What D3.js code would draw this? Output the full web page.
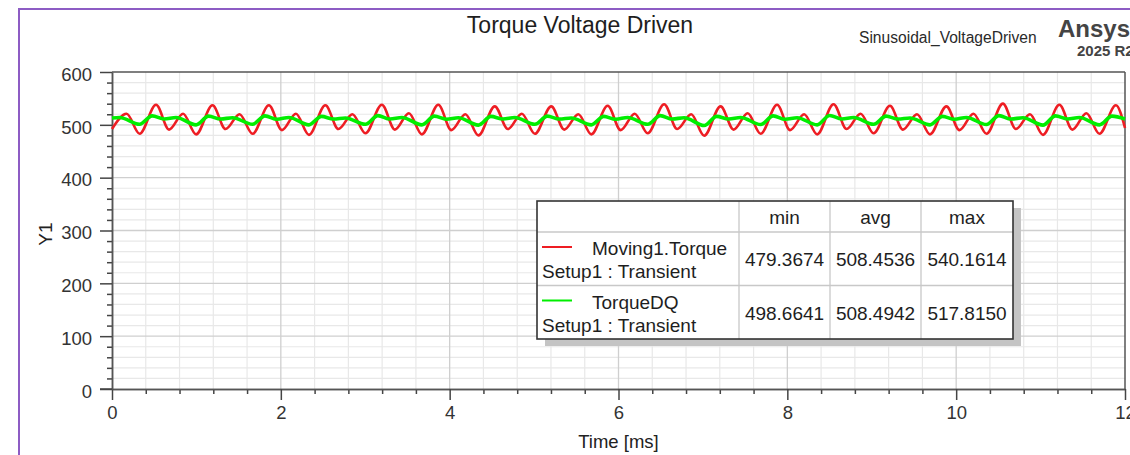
<!DOCTYPE html>
<html>
<head>
<meta charset="utf-8">
<script src="https://cdn.jsdelivr.net/npm/d3@7"></script>
<style>
  html, body { margin: 0; padding: 0; background: #fff; }
  svg { display: block; font-family: "Liberation Sans", Arial, sans-serif; }
</style>
</head>
<body>
<div id="viz"></div>
<script>
// Moving1.Torque, read at its peaks and troughs (time in ms, torque)
const torqueTime = [
  0, 0.173, 0.327,
  0.522, 0.676, 0.842, 0.996,
  1.191, 1.345, 1.511, 1.665,
  1.859, 2.013, 2.179, 2.333,
  2.528, 2.682, 2.848, 3.002,
  3.197, 3.351, 3.517, 3.671,
  3.866, 4.020, 4.186, 4.340,
  4.535, 4.689, 4.855, 5.009,
  5.204, 5.358, 5.524, 5.678,
  5.872, 6.026, 6.192, 6.346,
  6.541, 6.695, 6.861, 7.015,
  7.210, 7.364, 7.530, 7.684,
  7.879, 8.033, 8.199, 8.353,
  8.548, 8.702, 8.868, 9.022,
  9.216, 9.370, 9.536, 9.690,
  9.885, 10.039, 10.205, 10.359,
  10.554, 10.708, 10.874, 11.028,
  11.223, 11.377, 11.543, 11.697,
  11.892, 12.0
];
const torqueValues = [
  492, 521, 483,
  538, 491, 521, 482,
  537, 492, 520, 483,
  537, 490, 521, 481,
  537, 492, 520, 484,
  538, 491, 522, 482,
  538, 490, 520, 480,
  535, 492, 521, 483,
  535, 491, 520, 482,
  536, 490, 521, 484,
  539, 492, 520, 479.4,
  535, 491, 522, 483,
  538, 490, 520, 482,
  539, 492, 521, 484,
  536, 491, 520, 482,
  535, 490, 521, 483,
  540.2, 492, 520, 481,
  538, 491, 522, 483,
  537, 494
];

// TorqueDQ
const dqTime = [
  0, 0.090, 0.327,
  0.475, 0.617, 0.759, 0.996,
  1.144, 1.286, 1.428, 1.665,
  1.812, 1.954, 2.096, 2.333,
  2.481, 2.623, 2.765, 3.002,
  3.150, 3.292, 3.434, 3.671,
  3.819, 3.961, 4.103, 4.340,
  4.488, 4.630, 4.772, 5.009,
  5.157, 5.299, 5.441, 5.678,
  5.825, 5.967, 6.109, 6.346,
  6.494, 6.636, 6.778, 7.015,
  7.163, 7.305, 7.447, 7.684,
  7.832, 7.974, 8.116, 8.353,
  8.501, 8.643, 8.785, 9.022,
  9.169, 9.311, 9.453, 9.690,
  9.838, 9.980, 10.122, 10.359,
  10.507, 10.649, 10.791, 11.028,
  11.176, 11.318, 11.460, 11.697,
  11.845, 12.0
];
const dqValues = [
  513, 514, 501,
  517, 511, 514, 500,
  516.5, 511, 513.5, 501,
  517, 510.5, 514, 500,
  516, 511, 513, 501,
  517.5, 511, 514, 500,
  516.5, 510.5, 513.5, 499.5,
  516, 511, 514, 501,
  516.5, 511, 513, 500,
  516, 510.5, 514, 501,
  517.5, 511, 513.5, 498.7,
  516, 511, 514, 500.5,
  517, 510.5, 513.5, 500,
  517.8, 511, 514, 501,
  516.5, 511, 513, 500,
  516, 510.5, 514, 500.5,
  517.5, 511, 513.5, 499.5,
  517, 511, 514, 500,
  516.5, 511
];

const xMajorTicks = [0, 2, 4, 6, 8, 10, 12];
const yMajorTicks = [0, 100, 200, 300, 400, 500, 600];

const legendNames = ['Moving1.Torque', 'TorqueDQ'];
const legendSetup = ['Setup1 : Transient', 'Setup1 : Transient'];
const legendColors = ['#ee1d23', '#00ee00'];
const statHeaders = ['min', 'avg', 'max'];
const statMin = ['479.3674', '498.6641'];
const statAvg = ['508.4536', '508.4942'];
const statMax = ['540.1614', '517.8150'];

const width = 1130;
const height = 455;

const svg = d3.select('#viz')
  .append('svg')
  .attr('width', width)
  .attr('height', height);

svg.append('rect').attr('width', width).attr('height', height).attr('fill', '#fff');

// purple outer frame (runs off the right and bottom edges)
svg.append('rect')
  .attr('x', 19).attr('y', 9)
  .attr('width', 1140).attr('height', 470)
  .attr('fill', 'none')
  .attr('stroke', '#8d5cc4')
  .attr('stroke-width', 2);

const x = d3.scaleLinear().domain([0, 12]).range([112, 1125]);
const y = d3.scaleLinear().domain([0, 600]).range([389, 72]);

const xMinor = d3.range(0, 31).map(i => i * 0.4).filter(v => Math.abs(v / 2 - Math.round(v / 2)) > 1e-6);
const yMinor = d3.range(0, 31).map(i => i * 20).filter(v => v % 100 !== 0);

// grid
const grid = svg.append('g');
grid.selectAll('.vminor').data(xMinor).enter().append('line')
  .attr('x1', d => x(d)).attr('x2', d => x(d))
  .attr('y1', y(600)).attr('y2', y(0))
  .attr('stroke', '#e8e8e8').attr('stroke-width', 1.2);
grid.selectAll('.hminor').data(yMinor).enter().append('line')
  .attr('x1', x(0)).attr('x2', x(12))
  .attr('y1', d => y(d)).attr('y2', d => y(d))
  .attr('stroke', '#e8e8e8').attr('stroke-width', 1.2);
grid.selectAll('.vmajor').data(xMajorTicks.slice(1, -1)).enter().append('line')
  .attr('x1', d => x(d)).attr('x2', d => x(d))
  .attr('y1', y(600)).attr('y2', y(0))
  .attr('stroke', '#cfcfcf').attr('stroke-width', 1.3);
grid.selectAll('.hmajor').data(yMajorTicks.slice(1, -1)).enter().append('line')
  .attr('x1', x(0)).attr('x2', x(12))
  .attr('y1', d => y(d)).attr('y2', d => y(d))
  .attr('stroke', '#cfcfcf').attr('stroke-width', 1.3);

// frame top / right
svg.append('line')
  .attr('x1', x(0)).attr('x2', x(12)).attr('y1', y(600)).attr('y2', y(600))
  .attr('stroke', '#555').attr('stroke-width', 1.5);
svg.append('line')
  .attr('x1', x(12)).attr('x2', x(12)).attr('y1', y(600)).attr('y2', y(0))
  .attr('stroke', '#555').attr('stroke-width', 1.5);

// axes
const styleAxis = g => {
  g.select('.domain').attr('stroke', '#555').attr('stroke-width', 1.5);
  g.selectAll('.tick line').attr('stroke', '#444').attr('stroke-width', 1.5);
  g.selectAll('.tick text')
    .attr('fill', '#333')
    .style('font-size', '18.5px')
    .style('font-family', '"Liberation Sans", Arial, sans-serif');
};

svg.append('g')
  .attr('transform', `translate(0,${y(0)})`)
  .call(d3.axisBottom(x).tickValues(xMinor).tickSize(5).tickFormat('').tickSizeOuter(0))
  .call(styleAxis);
svg.append('g')
  .attr('transform', `translate(0,${y(0)})`)
  .call(d3.axisBottom(x).tickValues(xMajorTicks).tickSize(11).tickPadding(6).tickSizeOuter(0).tickFormat(d3.format('d')))
  .call(styleAxis);

svg.append('g')
  .attr('transform', `translate(${x(0)},0)`)
  .call(d3.axisLeft(y).tickValues(yMinor).tickSize(5).tickFormat('').tickSizeOuter(0))
  .call(styleAxis);
svg.append('g')
  .attr('transform', `translate(${x(0)},0)`)
  .call(d3.axisLeft(y).tickValues(yMajorTicks).tickSize(12).tickPadding(8).tickSizeOuter(0).tickFormat(d3.format('d')))
  .call(styleAxis)
  .call(g => g.selectAll('.tick text').attr('dy', '0.45em'));

// x-axis extends left to the major tick like the reference
svg.append('line')
  .attr('x1', 100).attr('x2', x(0)).attr('y1', y(0)).attr('y2', y(0))
  .attr('stroke', '#444').attr('stroke-width', 1.5);

// series
const line = d3.line()
  .x(d => x(d[0]))
  .y(d => y(d[1]))
  .curve(d3.curveMonotoneX);

svg.append('path')
  .datum(torqueTime.map((t, i) => [t, torqueValues[i]]))
  .attr('d', line)
  .attr('fill', 'none')
  .attr('stroke', legendColors[0])
  .attr('stroke-width', 2.6)
  .attr('stroke-linejoin', 'round');

svg.append('path')
  .datum(dqTime.map((t, i) => [t, dqValues[i]]))
  .attr('d', line)
  .attr('fill', 'none')
  .attr('stroke', legendColors[1])
  .attr('stroke-width', 3.6)
  .attr('stroke-linejoin', 'round');

// titles
svg.append('text')
  .attr('x', 580).attr('y', 33)
  .attr('text-anchor', 'middle')
  .attr('fill', '#1e1e1e')
  .style('font-size', '23px')
  .text('Torque Voltage Driven');

svg.append('text')
  .attr('x', 859).attr('y', 43)
  .attr('fill', '#2a2a2a')
  .style('font-size', '15.6px')
  .text('Sinusoidal_VoltageDriven');

svg.append('text')
  .attr('x', 1058).attr('y', 37)
  .attr('fill', '#444')
  .style('font-size', '24px')
  .style('font-weight', 'bold')
  .text('Ansys');

svg.append('text')
  .attr('x', 1077).attr('y', 56)
  .attr('fill', '#444')
  .style('font-size', '15px')
  .style('font-weight', 'bold')
  .text('2025 R2');

svg.append('text')
  .attr('transform', 'translate(52,234) rotate(-90)')
  .attr('text-anchor', 'middle')
  .attr('fill', '#222')
  .style('font-size', '19px')
  .text('Y1');

svg.append('text')
  .attr('x', (x(0) + x(12)) / 2).attr('y', 448)
  .attr('text-anchor', 'middle')
  .attr('fill', '#222')
  .style('font-size', '18.5px')
  .text('Time [ms]');

// legend table
const lg = { x: 537, y: 201, cols: [202, 91, 91, 92], header: 31, row: 53.5 };
const lgW = d3.sum(lg.cols);
const lgH = lg.header + 2 * lg.row;
const colX = [lg.x];
lg.cols.forEach((w, i) => colX.push(colX[i] + w));

const legend = svg.append('g');
legend.append('rect')
  .attr('x', lg.x + 8).attr('y', lg.y + 7)
  .attr('width', lgW).attr('height', lgH)
  .attr('fill', '#c4c4c4');
legend.append('rect')
  .attr('x', lg.x).attr('y', lg.y)
  .attr('width', lgW).attr('height', lgH)
  .attr('fill', '#fff');

// inner lines
colX.slice(1, -1).forEach(cx => {
  legend.append('line')
    .attr('x1', cx).attr('x2', cx).attr('y1', lg.y).attr('y2', lg.y + lgH)
    .attr('stroke', '#c8c8c8').attr('stroke-width', 1.3);
});
[lg.y + lg.header, lg.y + lg.header + lg.row].forEach(ry => {
  legend.append('line')
    .attr('x1', lg.x).attr('x2', lg.x + lgW).attr('y1', ry).attr('y2', ry)
    .attr('stroke', '#c8c8c8').attr('stroke-width', 1.3);
});
legend.append('rect')
  .attr('x', lg.x).attr('y', lg.y)
  .attr('width', lgW).attr('height', lgH)
  .attr('fill', 'none')
  .attr('stroke', '#333').attr('stroke-width', 1.6);

const txt = (g, tx, ty, s, anchor) => g.append('text')
  .attr('x', tx).attr('y', ty)
  .attr('text-anchor', anchor || 'start')
  .attr('fill', '#1e1e1e')
  .style('font-size', '19px')
  .text(s);

statHeaders.forEach((h, i) => {
  txt(legend, (colX[i + 1] + colX[i + 2]) / 2, lg.y + 23, h, 'middle');
});

const stats = [statMin, statAvg, statMax];
legendNames.forEach((name, r) => {
  const top = lg.y + lg.header + r * lg.row;
  legend.append('line')
    .attr('x1', lg.x + 5).attr('x2', lg.x + 35)
    .attr('y1', top + 15).attr('y2', top + 15)
    .attr('stroke', legendColors[r]).attr('stroke-width', 2);
  txt(legend, lg.x + 55, top + 23, name);
  txt(legend, lg.x + 5, top + 46, legendSetup[r]);
  stats.forEach((col, c) => {
    txt(legend, (colX[c + 1] + colX[c + 2]) / 2, top + 34, col[r], 'middle');
  });
});
</script>
</body>
</html>
